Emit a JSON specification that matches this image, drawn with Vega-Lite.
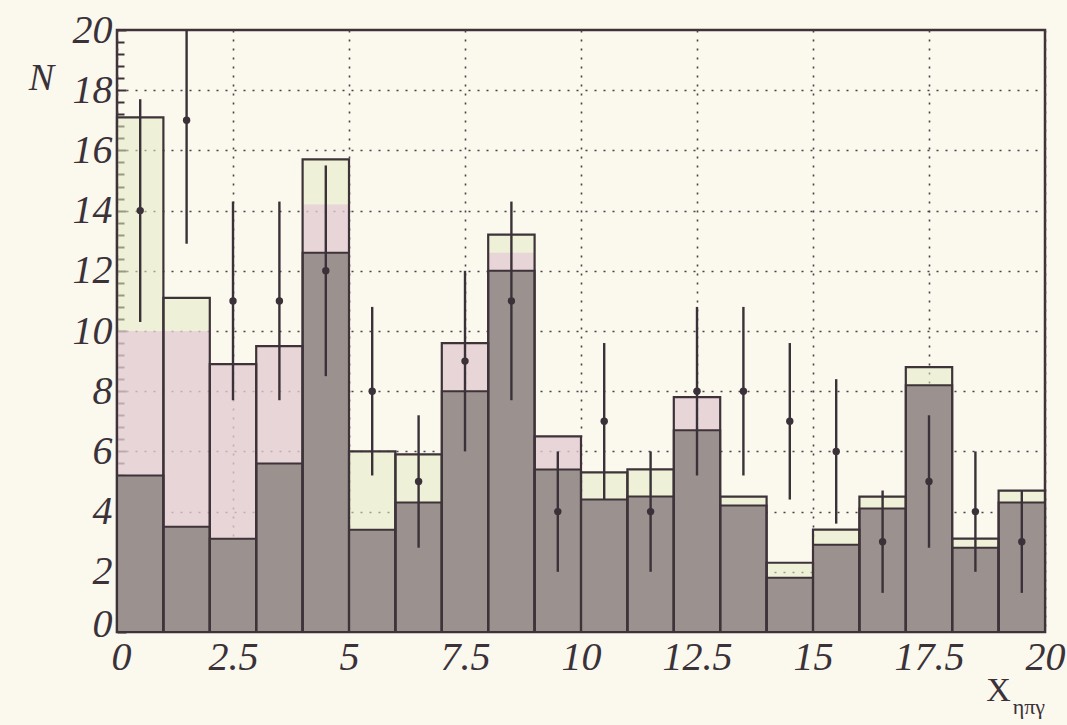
{
  "$schema": "https://vega.github.io/schema/vega-lite/v6.json",
  "width": 928,
  "height": 602,
  "autosize": {"type": "none"},
  "padding": {"left": 117, "top": 30, "right": 22, "bottom": 93},
  "background": "#fbf8ee",
  "title": {"text": "ηπγ", "orient": "bottom", "anchor": "end", "font": "Liberation Serif", "fontSize": 22, "fontWeight": "normal", "color": "#3a3238", "offset": -10, "dx": -20},
  "config": {
    "view": {"stroke": "#3d3339", "strokeWidth": 2.5, "fill": "#fbf8ee"},
    "axis": {"labelColor": "#3a3238", "titleColor": "#3a3238", "domain": false}
  },
  "datasets": {
    "bins": [
      {"lo": 0, "hi": 1, "hatch": 5.2, "mid": 10.0, "total": 17.1},
      {"lo": 1, "hi": 2, "hatch": 3.5, "mid": 10.0, "total": 11.1},
      {"lo": 2, "hi": 3, "hatch": 3.1, "mid": 8.9, "total": 8.9},
      {"lo": 3, "hi": 4, "hatch": 5.6, "mid": 9.5, "total": 9.5},
      {"lo": 4, "hi": 5, "hatch": 12.6, "mid": 14.2, "total": 15.7},
      {"lo": 5, "hi": 6, "hatch": 3.4, "mid": 3.4, "total": 6.0},
      {"lo": 6, "hi": 7, "hatch": 4.3, "mid": 4.3, "total": 5.9},
      {"lo": 7, "hi": 8, "hatch": 8.0, "mid": 9.6, "total": 9.6},
      {"lo": 8, "hi": 9, "hatch": 12.0, "mid": 12.6, "total": 13.2},
      {"lo": 9, "hi": 10, "hatch": 5.4, "mid": 6.5, "total": 6.5},
      {"lo": 10, "hi": 11, "hatch": 4.4, "mid": 4.4, "total": 5.3},
      {"lo": 11, "hi": 12, "hatch": 4.5, "mid": 4.5, "total": 5.4},
      {"lo": 12, "hi": 13, "hatch": 6.7, "mid": 7.8, "total": 7.8},
      {"lo": 13, "hi": 14, "hatch": 4.2, "mid": 4.2, "total": 4.5},
      {"lo": 14, "hi": 15, "hatch": 1.8, "mid": 1.8, "total": 2.3},
      {"lo": 15, "hi": 16, "hatch": 2.9, "mid": 2.9, "total": 3.4},
      {"lo": 16, "hi": 17, "hatch": 4.1, "mid": 4.1, "total": 4.5},
      {"lo": 17, "hi": 18, "hatch": 8.2, "mid": 8.2, "total": 8.8},
      {"lo": 18, "hi": 19, "hatch": 2.8, "mid": 2.8, "total": 3.1},
      {"lo": 19, "hi": 20, "hatch": 4.3, "mid": 4.3, "total": 4.7}
    ],
    "points": [
      {"x": 0.5, "n": 14, "lo": 10.3, "hi": 17.7},
      {"x": 1.5, "n": 17, "lo": 12.9, "hi": 21.1},
      {"x": 2.5, "n": 11, "lo": 7.7, "hi": 14.3},
      {"x": 3.5, "n": 11, "lo": 7.7, "hi": 14.3},
      {"x": 4.5, "n": 12, "lo": 8.5, "hi": 15.5},
      {"x": 5.5, "n": 8, "lo": 5.2, "hi": 10.8},
      {"x": 6.5, "n": 5, "lo": 2.8, "hi": 7.2},
      {"x": 7.5, "n": 9, "lo": 6.0, "hi": 12.0},
      {"x": 8.5, "n": 11, "lo": 7.7, "hi": 14.3},
      {"x": 9.5, "n": 4, "lo": 2.0, "hi": 6.0},
      {"x": 10.5, "n": 7, "lo": 4.4, "hi": 9.6},
      {"x": 11.5, "n": 4, "lo": 2.0, "hi": 6.0},
      {"x": 12.5, "n": 8, "lo": 5.2, "hi": 10.8},
      {"x": 13.5, "n": 8, "lo": 5.2, "hi": 10.8},
      {"x": 14.5, "n": 7, "lo": 4.4, "hi": 9.6},
      {"x": 15.5, "n": 6, "lo": 3.6, "hi": 8.4},
      {"x": 16.5, "n": 3, "lo": 1.3, "hi": 4.7},
      {"x": 17.5, "n": 5, "lo": 2.8, "hi": 7.2},
      {"x": 18.5, "n": 4, "lo": 2.0, "hi": 6.0},
      {"x": 19.5, "n": 3, "lo": 1.3, "hi": 4.7}
    ]
  },
  "layer": [
    {
      "data": {"name": "bins"},
      "mark": {"type": "bar", "fill": "#e3ebc4", "fillOpacity": 0.55, "strokeWidth": 0},
      "encoding": {
        "x": {"field": "lo", "type": "quantitative",
          "scale": {"domain": [0, 20], "nice": false},
          "axis": {
            "values": [0, 2.5, 5, 7.5, 10, 12.5, 15, 17.5, 20],
            "format": ".1~f",
            "grid": true, "gridDash": [2, 7], "gridColor": "#4a4048", "gridWidth": 1.6,
            "ticks": false,
            "labelFont": "Liberation Serif", "labelFontStyle": "italic", "labelFontSize": 40,
            "labelPadding": 5, "labelFlush": false, "labelOverlap": false,
            "labelOffset": {"condition": {"test": "datum.value === 0", "value": 4}, "value": 0},
            "title": "X", "titleFont": "Liberation Serif", "titleFontSize": 34, "titleFontWeight": "normal",
            "titleX": 881, "titleY": 58, "titleAlign": "center", "titleBaseline": "middle"
          }
        },
        "x2": {"field": "hi"},
        "y": {"field": "total", "type": "quantitative",
          "scale": {"domain": [0, 20], "nice": false},
          "axis": {
            "values": [0, 0.4, 0.8, 1.2, 1.6, 2, 2.4, 2.8, 3.2, 3.6, 4, 4.4, 4.8, 5.2, 5.6, 6, 6.4, 6.8, 7.2, 7.6, 8, 8.4, 8.8, 9.2, 9.6, 10, 10.4, 10.8, 11.2, 11.6, 12, 12.4, 12.8, 13.2, 13.6, 14, 14.4, 14.8, 15.2, 15.6, 16, 16.4, 16.8, 17.2, 17.6, 18, 18.4, 18.8, 19.2, 19.6, 20],
            "tickCount": {"expr": "0"}, "format": "d",
            "labelExpr": "datum.value % 2 === 0 ? datum.label : ''",
            "labelOffset": {"condition": {"test": "datum.value === 0", "value": -8}, "value": 0},
            "grid": true, "gridDash": [2, 7], "gridColor": "#4a4048", "gridWidth": 1.6,
            "gridOpacity": {"condition": {"test": "datum.value % 2 === 0 && datum.value > 0 && datum.value < 20", "value": 1}, "value": 0},
            "ticks": true, "tickColor": "#3d3339", "tickWidth": 2,
            "tickSize": {"condition": {"test": "datum.value % 2 === 0", "value": -9}, "value": -7},
            "labelFont": "Liberation Serif", "labelFontStyle": "italic", "labelFontSize": 40,
            "labelPadding": 14, "labelFlush": false, "labelOverlap": false,
            "title": "N", "titleFont": "Liberation Serif", "titleFontStyle": "italic", "titleFontSize": 38, "titleFontWeight": "normal",
            "titleAngle": 0, "titleX": -76, "titleY": 48, "titleAlign": "center", "titleBaseline": "middle"
          }
        },
        "y2": {"datum": 0}
      }
    },
    {
      "data": {"name": "bins"},
      "mark": {"type": "bar", "fill": "#e2b9d9", "fillOpacity": 0.5, "strokeWidth": 0},
      "encoding": {
        "x": {"field": "lo", "type": "quantitative"},
        "x2": {"field": "hi"},
        "y": {"field": "hatch", "type": "quantitative"},
        "y2": {"field": "mid"}
      }
    },
    {
      "data": {"name": "bins"},
      "mark": {"type": "bar", "fill": "#9b928f", "stroke": "#3d3339", "strokeWidth": 2},
      "encoding": {
        "x": {"field": "lo", "type": "quantitative"},
        "x2": {"field": "hi"},
        "y": {"field": "hatch", "type": "quantitative"},
        "y2": {"datum": 0}
      }
    },
    {
      "data": {"name": "bins"},
      "mark": {"type": "bar", "fill": "#ffffff", "fillOpacity": 0, "stroke": "#3d3339", "strokeWidth": 2.2},
      "encoding": {
        "x": {"field": "lo", "type": "quantitative"},
        "x2": {"field": "hi"},
        "y": {"field": "total", "type": "quantitative"},
        "y2": {"datum": 0}
      }
    },
    {
      "data": {"name": "points"},
      "mark": {"type": "rule", "color": "#3a3238", "strokeWidth": 2.4, "clip": true},
      "encoding": {
        "x": {"field": "x", "type": "quantitative"},
        "y": {"field": "lo", "type": "quantitative"},
        "y2": {"field": "hi"}
      }
    },
    {
      "data": {"name": "points"},
      "mark": {"type": "point", "shape": "circle", "filled": true, "size": 55, "color": "#3a3238", "opacity": 1},
      "encoding": {
        "x": {"field": "x", "type": "quantitative"},
        "y": {"field": "n", "type": "quantitative"}
      }
    }
  ]
}
